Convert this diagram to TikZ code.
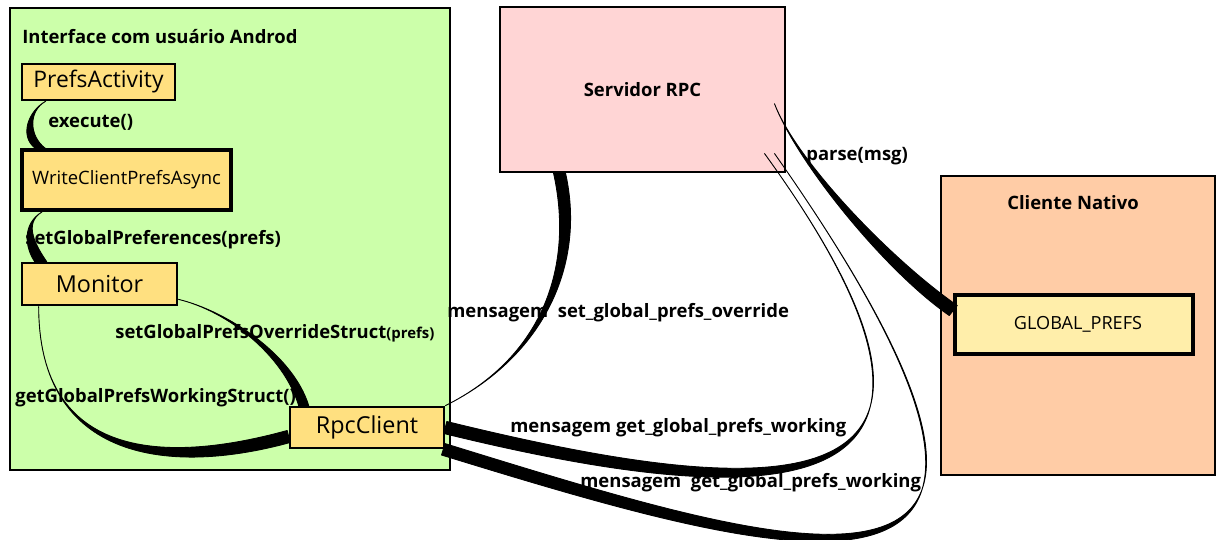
\documentclass[tikz,border=0pt]{standalone}
\usepackage{fontspec}
\setmainfont{Open Sans}
\usetikzlibrary{calc}

\definecolor{androidgreen}{HTML}{CCFFAA}
\definecolor{serverpink}{HTML}{FFD5D5}
\definecolor{clientpeach}{HTML}{FFCCA6}
\definecolor{classyellow}{HTML}{FFE080}
\definecolor{prefsyellow}{HTML}{FFEEAA}

% tapered call: from, shift, control 1, control 2, to, shift, half width
\newcommand\flow[7]{%
  \filldraw[line width=0.5pt,line join=round]
    ($(#1)+(#2)$) .. controls +(#3) and +(#4) .. ($(#5)+(#6)+(#7)$)
    -- ($(#5)+(#6)-(#7)$) .. controls +(#4) and +(#3) .. ($(#1)+(#2)$);
}

\begin{document}
\begin{tikzpicture}[x=0.2mm,y=-0.2mm,
    area/.style={draw,line width=1.6pt,inner sep=0pt},
    cls/.style={draw,fill=classyellow,line width=1.3pt,inner sep=0pt},
    lbl/.style={anchor=west,inner sep=0pt,font=\bfseries\fontsize{10.5}{12}\selectfont}]
  \useasboundingbox (0,0) rectangle (1217,539);

  \node[area,fill=androidgreen,minimum width=88mm,minimum height=92.4mm] (ui) at (230,239) {};
  \node[area,fill=serverpink,minimum width=57mm,minimum height=33mm,
        font=\bfseries\fontsize{10.5}{12}\selectfont] (srv) at (642.5,89.5) {Servidor RPC};
  \node[area,fill=clientpeach,line width=1.4pt,minimum width=54.8mm,minimum height=59.8mm] (cn) at (1078,325.5) {};

  \node[lbl] (uit) at (22,37) {Interface com usuário Androd};
  \node[lbl,anchor=center] (cnt) at (1073,203) {Cliente Nativo};

  \node[cls,minimum width=30.6mm,minimum height=7.2mm,font=\fontsize{13}{15}\selectfont] (pa) at (98.5,82) {PrefsActivity};
  \node[cls,line width=2pt,minimum width=41.8mm,minimum height=12mm,font=\fontsize{10.5}{12}\selectfont] (wc) at (126.5,180) {WriteClientPrefsAsync};
  \node[cls,line width=1.5pt,minimum width=31mm,minimum height=8.4mm,font=\fontsize{13.3}{15}\selectfont] (mo) at (99.5,284) {Monitor};
  \node[cls,line width=1.5pt,minimum width=30.8mm,minimum height=8.2mm,font=\fontsize{13.3}{15}\selectfont] (rc) at (367,427.5) {RpcClient};
  \node[cls,fill=prefsyellow,line width=2pt,minimum width=47.6mm,minimum height=11.8mm,font=\fontsize{10.3}{12}\selectfont] (gp) at (1074,324.5) {\hspace{1.6mm}GLOBAL\_PREFS};

  \node[lbl] (l1) at (48,122) {execute()};
  \node[lbl] (l2) at (25,240) {setGlobalPreferences(prefs)};
  \node[lbl] (l3) at (115,333) {setGlobalPrefsOverrideStruct{\fontsize{8.5}{10}\selectfont(prefs)}};
  \node[lbl] (l4) at (15,398) {getGlobalPrefsWorkingStruct()};
  \node[lbl] (l5) at (447,313) {mensagem\ \ set\_global\_prefs\_override};
  \node[lbl] (l6) at (510,428) {mensagem get\_global\_prefs\_working};
  \node[lbl] (l7) at (580,483) {mensagem\ \ get\_global\_prefs\_working};
  \node[lbl] (l8) at (806,156) {parse(msg)};

  \flow{pa.south west}{25,0}{-18,10}{-16,-12}{wc.north west}{20,0}{5,0}
  \flow{wc.south west}{22,0}{-20,12}{-10,-15}{mo.north west}{20,0}{6,0}
  \flow{mo.south east}{0,-7}{50,12}{-15,-50}{rc.north west}{15,0}{5,0}
  \flow{mo.south west}{18,0}{0,155}{-120,33}{rc.west}{0,9}{1.5,6}
  \flow{rc.north east}{0,0}{100,-50}{20,90}{srv.south west}{61,0}{6,0}
  \flow{srv.east}{-12,14}{22,58}{-65,-45}{gp.west}{0,-14}{-4,5}
  \flow{srv.south east}{-22,-20}{267,368}{316,77.5}{rc.east}{0,0}{-1.5,6}
  \flow{srv.south east}{-12,-20}{357,508}{348,107}{rc.south east}{-2,0}{-1.8,5.7}
\end{tikzpicture}
\end{document}
